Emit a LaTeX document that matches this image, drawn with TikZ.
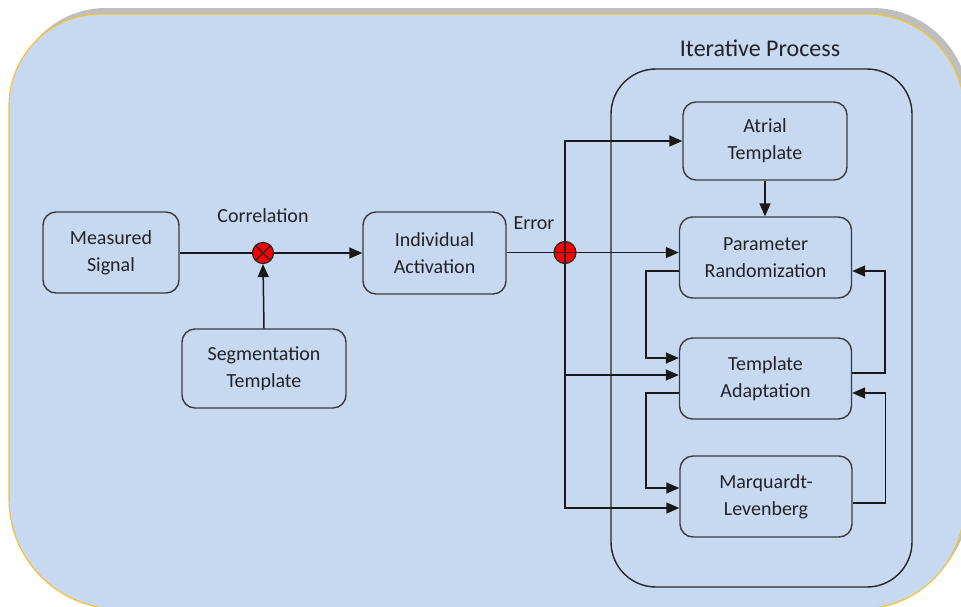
\documentclass[tikz,border=0pt]{standalone}
\usepackage{fontspec}
\setmainfont{Carlito}
\usetikzlibrary{arrows.meta}
\definecolor{bgfill}{RGB}{198,217,240}
\definecolor{bgborder}{RGB}{245,195,56}
\definecolor{shadowc}{RGB}{190,190,190}
\definecolor{boxline}{RGB}{60,60,60}
\definecolor{txt}{RGB}{34,34,40}
\definecolor{sumred}{RGB}{255,0,0}
\tikzset{
  blk/.style={draw=boxline, line width=1.4pt, rounded corners=13pt, align=center,
    text=txt, font=\fontsize{20}{27}\selectfont, inner sep=0pt},
  sumnode/.style={circle, draw=black!85, fill=sumred, line width=1.2pt, minimum size=21pt, inner sep=0pt},
  conn/.style={draw=black!90, line width=1.5pt},
  arr/.style={-{Triangle[length=13pt,width=11pt]}},
  lbl/.style={text=txt, font=\fontsize{20}{24}\selectfont, inner sep=0pt}
}
\begin{document}
\begin{tikzpicture}[x=1pt,y=-1pt]
\useasboundingbox (0,0) rectangle (961,606);
\clip (0,0) rectangle (961,606);
% shadow
\fill[shadowc, shift={(5,-6)}] (9,106) arc[start angle=180,end angle=270,radius=92] -- (867,14)
  arc[start angle=270,end angle=360,radius=97] -- (964,506)
  arc[start angle=0,end angle=90,radius=103] -- (119,609)
  arc[start angle=90,end angle=180,radius=110] -- cycle;
% background
\draw[fill=bgfill, draw=bgborder, line width=1.2pt] (9,106) arc[start angle=180,end angle=270,radius=92] -- (867,14)
  arc[start angle=270,end angle=360,radius=97] -- (964,506)
  arc[start angle=0,end angle=90,radius=103] -- (119,609)
  arc[start angle=90,end angle=180,radius=110] -- cycle;
% iterative process frame
\draw[draw=black!85, line width=1.4pt, rounded corners=45pt] (611,69) rectangle (912,587);
\node[lbl, font=\fontsize{24}{28}\selectfont] (title) at (760,48) {Iterative Process};

% blocks
\node[blk, minimum width=136pt, minimum height=81pt] (ms) at (111,252.5) {Measured\\Signal};
\node[blk, minimum width=164pt, minimum height=79pt] (st) at (264,368.5) {Segmentation\\Template};
\node[blk, minimum width=143pt, minimum height=82pt] (ia) at (434.5,253) {Individual\\Activation};
\node[blk, minimum width=164pt, minimum height=78pt] (at) at (765,141) {Atrial\\Template};
\node[blk, minimum width=172pt, minimum height=81pt] (pr) at (765.5,257.5) {Parameter\\Randomization};
\node[blk, minimum width=172pt, minimum height=81pt] (ta) at (765.5,378.5) {Template\\Adaptation};
\node[blk, minimum width=172pt, minimum height=81pt] (ml) at (766,496.5) {Marquardt-\\Levenberg};

% summing junctions
\node[sumnode] (c1) at (263,253) {};
\node[sumnode, minimum size=22pt] (c2) at (565,252.5) {};
\node[lbl] (corr) at (263,216) {Correlation};
\node[lbl] (err) at (534,223) {Error};

\draw[draw=black!85, line width=1.1pt] (c1.45) -- (c1.225) (c1.135) -- (c1.315);
\draw[draw=black!85, line width=1.1pt] (c2.north) -- (c2.south) (c2.west) -- (c2.east);

% connectors
\draw[conn] (ms.east |- c1) -- (c1.west);
\draw[conn,arr] (c1.east) -- (c1.east -| ia.west);
\draw[conn,arr] (st.north) -- (c1.south);
\draw[conn] (ia.east |- c2) -- (c2.west);
\draw[conn,arr] (c2.east) -- (c2.east -| pr.west);
\draw[conn,arr] (c2.north) |- (at.west);
\draw[conn,arr] (c2.south) |- ([yshift=-11.5pt]ml.west);
\draw[conn,arr] (c2.south) |- ([yshift=3.5pt]ta.west);
\draw[conn,arr] (at.south) -- (at.south |- pr.north);

\draw[conn,arr] ([yshift=-13.5pt]pr.west) -- ++(-33,0) |- ([yshift=20.5pt]ta.west);
\draw[conn,arr] ([yshift=-14.5pt]ta.west) -- ++(-33,0) |- ([yshift=8.5pt]ml.west);
\draw[conn,arr] ([yshift=5.5pt]ta.east) -- ++(33,0) |- ([yshift=-13.5pt]pr.east);
\draw[conn,arr] ([yshift=-6.5pt]ml.east) -- ++(33,0) |- ([yshift=-14.5pt]ta.east);
\end{tikzpicture}
\end{document}
